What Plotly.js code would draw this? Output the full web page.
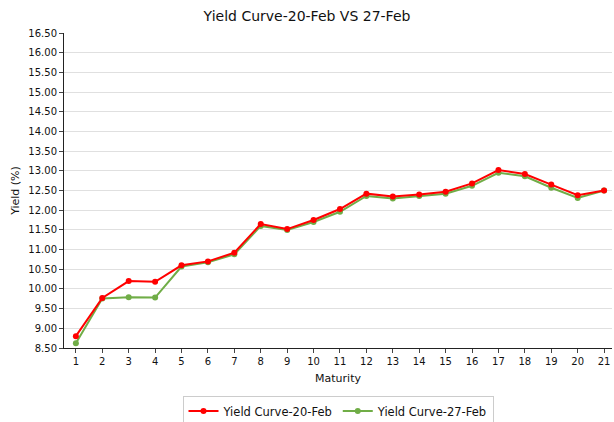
<!DOCTYPE html>
<html><head><meta charset="utf-8">
<script src="https://cdn.plot.ly/plotly-3.0.1.min.js"></script>
<style>html,body{margin:0;padding:0;background:#fff}#chart{width:614px;height:422px}</style>
</head><body><div id="chart"></div>
<script>
const maturity = [1,2,3,4,5,6,7,8,9,10,11,12,13,14,15,16,17,18,19,20,21];
const feb20 = [8.80,9.77,10.20,10.18,10.60,10.70,10.92,11.65,11.52,11.75,12.03,12.42,12.35,12.40,12.47,12.68,13.02,12.92,12.65,12.38,12.50];
const feb27 = [8.62,9.76,9.79,9.78,10.57,10.68,10.88,11.60,11.50,11.70,11.96,12.36,12.30,12.36,12.42,12.62,12.95,12.86,12.57,12.31,12.50];
const yTicks = [8.5,9,9.5,10,10.5,11,11.5,12,12.5,13,13.5,14,14.5,15,15.5,16,16.5];

const data = [
  {x: maturity, y: feb27, name: 'Yield Curve-27-Feb', type: 'scatter', mode: 'lines+markers',
   line: {color: '#70ad47', width: 2}, marker: {color: '#70ad47', size: 6}, legendrank: 2},
  {x: maturity, y: feb20, name: 'Yield Curve-20-Feb', type: 'scatter', mode: 'lines+markers',
   line: {color: '#ff0000', width: 2}, marker: {color: '#ff0000', size: 6}, legendrank: 1}
];
const layout = {
  width: 614, height: 422,
  margin: {l: 64, r: 2, t: 33, b: 74},
  paper_bgcolor: '#fff', plot_bgcolor: '#fff',
  font: {family: 'DejaVu Sans, sans-serif', size: 10, color: '#111'},
  title: {text: 'Yield Curve-20-Feb VS 27-Feb', font: {size: 14, color: '#111'}, x: 0.5, xanchor: 'center', y: 0.962, yanchor: 'middle'},
  xaxis: {range: [0.55, 21.3], tickvals: maturity, ticktext: maturity.map(String), ticks: 'outside', ticklen: 4,
          showline: true, linecolor: '#222', linewidth: 1, showgrid: false, zeroline: false, automargin: false,
          title: {text: 'Maturity', font: {size: 11}, standoff: 8}},
  yaxis: {range: [8.5, 16.5], tickvals: yTicks, ticktext: yTicks.map(v => v.toFixed(2)), ticks: 'outside', ticklen: 4,
          showline: true, linecolor: '#222', linewidth: 1, showgrid: true, gridcolor: '#e0e0e0', zeroline: false, automargin: false,
          title: {text: 'Yield (%)', font: {size: 11}, standoff: 6}},
  legend: {orientation: 'h', x: 0.5, xanchor: 'center', xref: 'paper', yref: 'container', y: 0.026, yanchor: 'middle',
           bordercolor: '#ccc', borderwidth: 1, font: {size: 11.5}, traceorder: 'normal'},
  showlegend: true
};
Plotly.newPlot('chart', data, layout, {displayModeBar: false, staticPlot: true});
</script></body></html>
